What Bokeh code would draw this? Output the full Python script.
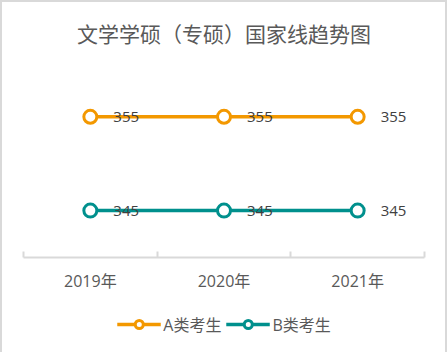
from bokeh.plotting import figure
from bokeh.layouts import column
from bokeh.models import (ColumnDataSource, Range1d, FixedTicker, LabelSet,
                          Legend, LegendItem)
from bokeh.core.properties import value
from bokeh.embed import file_html
from bokeh.resources import INLINE

years = ["2019年", "2020年", "2021年"]
series_a = [355, 355, 355]
series_b = [345, 345, 345]
name_a = "A类考生"
name_b = "B类考生"
title = "文学学硕（专硕）国家线趋势图"

ORANGE = "#F39800"
TEAL = "#00908D"
GRAY_TXT = "#595959"
LATIN_CJK = "Open Sans, Noto Sans CJK SC"

xs = [i + 0.5 for i in range(len(years))]
src_a = ColumnDataSource(dict(x=xs, y=series_a, t=[str(v) for v in series_a]))
src_b = ColumnDataSource(dict(x=xs, y=series_b, t=[str(v) for v in series_b]))

p = figure(width=447, height=292, output_backend="svg", toolbar_location=None,
           x_range=Range1d(0, len(years)), y_range=Range1d(340, 361),
           min_border_left=23, min_border_right=23, min_border_top=60,
           min_border_bottom=35, frame_width=401, frame_height=197)
p.outline_line_color = None
p.background_fill_alpha = 0
p.border_fill_alpha = 0
p.xgrid.visible = False
p.ygrid.visible = False
p.yaxis.visible = False

p.title.text = title
p.title.align = "center"
p.title.text_font = "Noto Sans CJK SC"
p.title.text_font_size = "21px"
p.title.text_font_style = "normal"
p.title.text_color = GRAY_TXT
p.title.standoff = 26

ax = p.xaxis[0]
ax.ticker = FixedTicker(ticks=xs, minor_ticks=list(range(len(years) + 1)))
ax.major_label_overrides = {x: lab for x, lab in zip(xs, years)}
ax.major_tick_in = 0
ax.major_tick_out = 0
ax.minor_tick_in = 6
ax.minor_tick_out = 0
ax.minor_tick_line_color = "#D9D9D9"
ax.minor_tick_line_width = 2
ax.axis_line_color = "#D9D9D9"
ax.axis_line_width = 2
ax.major_label_text_font = LATIN_CJK
ax.major_label_text_font_size = "16px"
ax.major_label_text_color = GRAY_TXT
ax.major_label_standoff = 12

line_a = dict(line_color=ORANGE, line_width=3.5)
mark_a = dict(size=13, line_color=ORANGE, line_width=3, fill_color="white")
line_b = dict(line_color=TEAL, line_width=3.5)
mark_b = dict(size=13, line_color=TEAL, line_width=3, fill_color="white")

p.line("x", "y", source=src_a, **line_a)
p.scatter("x", "y", source=src_a, **mark_a)
p.line("x", "y", source=src_b, **line_b)
p.scatter("x", "y", source=src_b, **mark_b)

for src in (src_a, src_b):
    p.add_layout(LabelSet(x="x", y="y", text="t", source=src, x_offset=23,
                          text_align="left", text_baseline="middle",
                          text_font_size=value("15px"), text_color=value("#404040"),
                          text_font=value("Open Sans")))

# legend strip below the chart
p2 = figure(width=447, height=60, output_backend="svg", toolbar_location=None,
            x_range=Range1d(0, 1), y_range=Range1d(0, 1),
            min_border_left=0, min_border_right=0, min_border_top=0,
            min_border_bottom=0)
p2.outline_line_color = None
p2.background_fill_alpha = 0
p2.border_fill_alpha = 0
p2.axis.visible = False
p2.grid.visible = False
nan = float("nan")
empty = ColumnDataSource(dict(x=[nan], y=[nan]))
la = p2.line("x", "y", source=empty, **line_a)
ca = p2.scatter("x", "y", source=empty, **mark_a)
lb = p2.line("x", "y", source=empty, **line_b)
cb = p2.scatter("x", "y", source=empty, **mark_b)

legend = Legend(items=[LegendItem(label=name_a, renderers=[la, ca]),
                       LegendItem(label=name_b, renderers=[lb, cb])],
                orientation="horizontal", location="center",
                glyph_width=44, glyph_height=20, label_standoff=3, spacing=4,
                padding=0, margin=0, border_line_color=None,
                background_fill_alpha=0,
                label_text_font=LATIN_CJK, label_text_font_size="16px",
                label_text_color=GRAY_TXT)
p2.add_layout(legend, "center")

layout = column(p, p2, spacing=0,
                styles={"box-shadow": "inset 0 0 0 2px #D9D9D9",
                        "background-color": "white"})

open("out.html", "w").write(file_html(layout, INLINE))
